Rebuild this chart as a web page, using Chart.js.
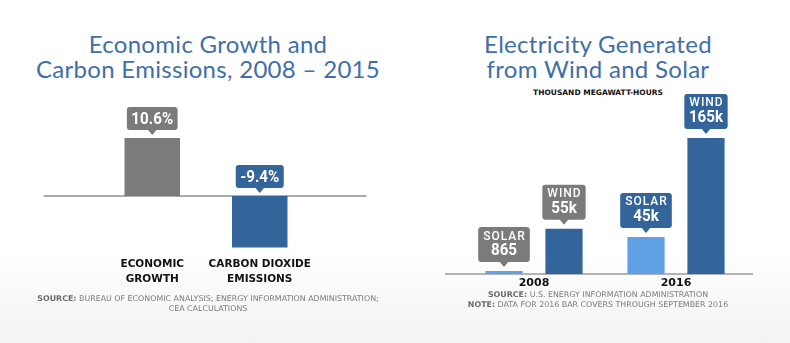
<!DOCTYPE html>
<html>
<head>
<meta charset="utf-8">
<script src="https://cdn.jsdelivr.net/npm/chart.js@4.4.0/dist/chart.umd.min.js"></script>
<style>
  html, body { margin: 0; padding: 0; }
  body {
    width: 790px; height: 343px; position: relative; overflow: hidden;
    background: linear-gradient(to bottom, #ffffff 0, #ffffff 250px, #f3f3f3 343px);
    font-family: Lato, "Open Sans", sans-serif;
  }
  canvas { position: absolute; top: 0; }
  .title {
    position: absolute; top: 31px; text-align: center;
    color: #3f6fa8; font-size: 24px; line-height: 25px; letter-spacing: 0.3px; white-space: nowrap;
  }
  .units {
    position: absolute; top: 88px; left: 400px; width: 396px; text-align: center;
    font: bold 7.5px/10px "DejaVu Sans", sans-serif; color: #111;
  }
  .source {
    position: absolute; text-align: center; white-space: nowrap;
    font: 7.9px/10px "DejaVu Sans", sans-serif; color: #7a7a7a;
  }
  .source b { color: #6a6a6a; }
</style>
</head>
<body>
<div class="title" style="left:0; width:416px;">Economic Growth and<br>Carbon Emissions, 2008 &ndash; 2015</div>
<div class="title" style="left:400px; width:396px;">Electricity Generated<br>from Wind and Solar</div>
<div class="units">THOUSAND MEGAWATT-HOURS</div>

<canvas id="growthChart" width="400" height="290" style="left:0"></canvas>
<canvas id="energyChart" width="390" height="300" style="left:400px"></canvas>

<div class="source" style="left:0; width:416px; top:294px;"><b>SOURCE:</b> BUREAU OF ECONOMIC ANALYSIS; ENERGY INFORMATION ADMINISTRATION;<br>CEA CALCULATIONS</div>
<div class="source" style="left:400px; width:396px; top:290px;"><b>SOURCE:</b> U.S. ENERGY INFORMATION ADMINISTRATION<br><b>NOTE:</b> DATA FOR 2016 BAR COVERS THROUGH SEPTEMBER 2016</div>

<script>
// Economic growth vs. CO2 emissions, percent change 2008-2015
const growthLabels = [['ECONOMIC', 'GROWTH'], ['CARBON DIOXIDE', 'EMISSIONS']];
const growthValues = [10.6, -9.4];

// Electricity from wind and solar, thousand MWh
const years = ['2008', '2016'];
const solarValues = [865, 45000];
const windValues = [55000, 165000];

const GRAY = '#7b7b7b';
const BLUE = '#33659a';
const LIGHT_BLUE = '#60a1e6';

const calloutFont = 'Roboto, "DejaVu Sans Condensed", sans-serif';

// speech-bubble labels sitting on top of each bar
const calloutPlugin = {
  id: 'callouts',
  afterDatasetsDraw(chart, args, opts) {
    const ctx = chart.ctx;
    chart.data.datasets.forEach((ds, di) => {
      chart.getDatasetMeta(di).data.forEach((bar, i) => {
        const lines = opts.lines(ds, i);
        const top = Math.min(bar.y, bar.base);
        const tipY = top - opts.gap;
        const boxBottom = tipY - opts.pointer;
        const h = lines.length > 1 ? opts.doubleHeight : opts.singleHeight;
        const boxTop = boxBottom - h;

        ctx.save();
        let w = 0;
        lines.forEach(l => {
          ctx.font = l.font;
          ctx.letterSpacing = (l.spacing || 0) + 'px';
          w = Math.max(w, ctx.measureText(l.text).width * (l.squeeze || 1));
        });
        w += opts.padX * 2;

        ctx.fillStyle = opts.colors(di, i);
        ctx.beginPath();
        ctx.roundRect(bar.x - w / 2, boxTop, w, h, 3);
        ctx.fill();
        ctx.beginPath();
        ctx.moveTo(bar.x - 5, boxBottom - 1);
        ctx.lineTo(bar.x, tipY);
        ctx.lineTo(bar.x + 5, boxBottom - 1);
        ctx.closePath();
        ctx.fill();

        ctx.fillStyle = '#fff';
        ctx.textAlign = 'center';
        ctx.textBaseline = 'middle';
        lines.forEach((l, k) => {
          ctx.save();
          ctx.font = l.font;
          ctx.letterSpacing = (l.spacing || 0) + 'px';
          const cy = lines.length > 1 ? boxTop + opts.lineY[k] : boxTop + h / 2 + 1;
          ctx.translate(bar.x + (l.spacing || 0) / 2, cy);
          ctx.scale(l.squeeze || 1, 1);
          ctx.fillText(l.text, 0, 0);
          ctx.restore();
        });
        ctx.restore();
      });
    });
  }
};

// zero line, a bit wider than the plot area
const baselinePlugin = {
  id: 'baseline',
  beforeDatasetsDraw(chart, args, opts) {
    const { ctx, chartArea, scales } = chart;
    const y = scales.y.getPixelForValue(0);
    ctx.save();
    ctx.strokeStyle = opts.color;
    ctx.lineWidth = 2;
    ctx.beginPath();
    ctx.moveTo(chartArea.left - opts.extendLeft, y);
    ctx.lineTo(chartArea.right + opts.extendRight, y);
    ctx.stroke();
    ctx.restore();
  }
};

const axisLabelFont = { family: '"DejaVu Sans", sans-serif', weight: 'bold', size: 10.5 };

new Chart(document.getElementById('growthChart'), {
  type: 'bar',
  data: {
    labels: growthLabels,
    datasets: [{
      data: growthValues,
      backgroundColor: [GRAY, BLUE],
      categoryPercentage: 1,
      barPercentage: 0.516
    }]
  },
  options: {
    responsive: false,
    animation: false,
    layout: { padding: { left: 98.5, right: 86.5, top: 130.4, bottom: 0 } },
    scales: {
      x: {
        grid: { display: false, drawTicks: false },
        border: { display: false },
        ticks: { color: '#111', font: { ...axisLabelFont, lineHeight: '14.5px' }, padding: 6.5, maxRotation: 0, autoSkip: false },
        afterFit: s => { s.height = 39.3; }
      },
      y: { display: false, min: -10, max: 12 }
    },
    plugins: {
      legend: { display: false },
      tooltip: { enabled: false },
      baseline: { color: '#ababab', extendLeft: 55, extendRight: 53 },
      callouts: {
        gap: 3, pointer: 5, padX: 4.5, singleHeight: 23, doubleHeight: 35,
        colors: (di, i) => i === 0 ? GRAY : BLUE,
        lines: (ds, i) => [{ text: ds.data[i].toFixed(1) + '%', font: 'bold 16.5px ' + calloutFont, squeeze: 0.92 }]
      }
    }
  },
  plugins: [calloutPlugin, baselinePlugin]
});

const fmtEnergy = v => v >= 1000 ? Math.round(v / 1000) + 'k' : String(v);

new Chart(document.getElementById('energyChart'), {
  type: 'bar',
  data: {
    labels: years,
    datasets: [
      { label: 'Solar', data: solarValues, backgroundColor: LIGHT_BLUE, minBarLength: 3 },
      { label: 'Wind', data: windValues, backgroundColor: BLUE }
    ]
  },
  options: {
    responsive: false,
    animation: false,
    datasets: { bar: { categoryPercentage: 0.845, barPercentage: 0.62 } },
    layout: { padding: { left: 63, right: 43, top: 125.6, bottom: 0 } },
    scales: {
      x: {
        grid: { display: false, drawTicks: false },
        border: { display: false },
        ticks: { color: '#111', font: { ...axisLabelFont, size: 11, lineHeight: '13px' }, padding: 2.5, maxRotation: 0 },
        afterFit: s => { s.height = 26; }
      },
      y: { display: false, min: 0, max: 180000 }
    },
    plugins: {
      legend: { display: false },
      tooltip: { enabled: false },
      baseline: { color: '#b3b3b3', extendLeft: 18, extendRight: 6 },
      callouts: {
        gap: 4, pointer: 5, padX: 4.5, singleHeight: 23, doubleHeight: 35, lineY: [9.5, 24],
        colors: (di, i) => i === 0 ? GRAY : BLUE,
        lines: (ds, i) => [
          { text: ds.label.toUpperCase(), font: '500 12px ' + calloutFont, spacing: 1 },
          { text: fmtEnergy(ds.data[i]), font: 'bold 16.5px ' + calloutFont, squeeze: 0.92 }
        ]
      }
    }
  },
  plugins: [calloutPlugin, baselinePlugin]
});
</script>
</body>
</html>
